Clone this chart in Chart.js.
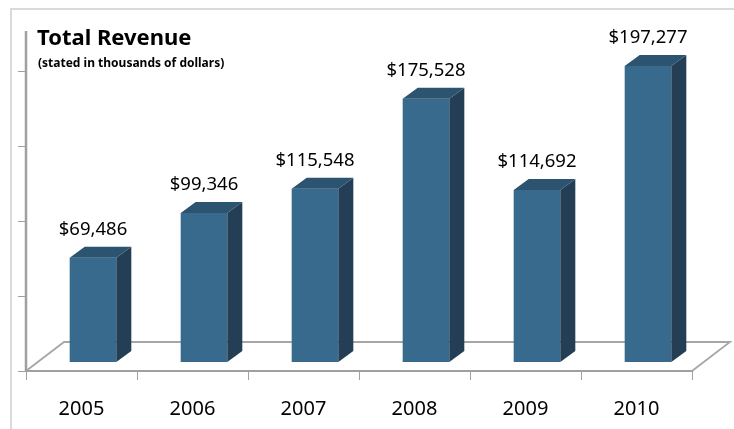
<!DOCTYPE html>
<html>
<head>
<meta charset="utf-8">
<script src="https://cdn.jsdelivr.net/npm/chart.js@4/dist/chart.umd.min.js"></script>
<style>
  html, body { margin: 0; padding: 0; background: #ffffff; }
  #wrap { width: 734px; height: 429px; position: relative; }
</style>
</head>
<body>
<div id="wrap"><canvas id="revenue" width="734" height="429"></canvas></div>
<script>
// Revenue by year, in thousands of dollars
const years = ['2005', '2006', '2007', '2008', '2009', '2010'];
const revenue = [69486, 99346, 115548, 175528, 114692, 197277];
const valueTicks = [0, 50000, 100000, 150000, 200000];
const titleText = 'Total Revenue';
const subtitleText = '(stated in thousands of dollars)';

const FONT = "'Noto Sans', 'Open Sans', sans-serif";
const COLORS = {
  front: '#386a8d',
  side: '#243f55',
  top: '#2c5370',
  axis: '#a0a0a0',
  floor: '#a6a6a6',
  frame: '#dadada'
};
// Oblique projection of the floor and the bar depth
const FLOOR_FRONT = { dx: -11.5, dy: 9 };
const FLOOR_DEPTH = { dx: 38, dy: -29 };
const BAR_DEPTH = { dx: 15, dy: -11 };

const fmt = v => '$' + v.toLocaleString('en-US');

const depthPlugin = {
  id: 'depth3d',
  beforeDatasetsDraw(chart) {
    const ctx = chart.ctx;
    const area = chart.chartArea;
    const xs = chart.scales.x;
    const ys = chart.scales.y;
    const base = ys.getPixelForValue(0);
    const catW = (area.right - area.left) / years.length;

    ctx.save();
    // outer frame (top and left edges)
    ctx.strokeStyle = COLORS.frame;
    ctx.lineWidth = 2;
    ctx.beginPath();
    ctx.moveTo(11, 429);
    ctx.lineTo(11, 9);
    ctx.lineTo(734, 9);
    ctx.stroke();

    // floor
    const fl = area.left + FLOOR_FRONT.dx;
    const fr = area.right + FLOOR_FRONT.dx;
    const fy = base + FLOOR_FRONT.dy;
    ctx.strokeStyle = COLORS.floor;
    ctx.lineWidth = 1.8;
    ctx.beginPath();
    ctx.moveTo(fl, fy);
    ctx.lineTo(fl + FLOOR_DEPTH.dx, fy + FLOOR_DEPTH.dy);
    ctx.lineTo(fr + FLOOR_DEPTH.dx, fy + FLOOR_DEPTH.dy);
    ctx.lineTo(fr, fy);
    ctx.stroke();

    // front edge of the floor = category axis
    ctx.strokeStyle = COLORS.axis;
    ctx.lineWidth = 2;
    ctx.beginPath();
    ctx.moveTo(fl, fy);
    ctx.lineTo(fr, fy);
    ctx.stroke();
    ctx.lineWidth = 1;
    ctx.beginPath();
    for (let i = 0; i <= years.length; i++) {
      const tx = Math.round(fl + i * catW) + 0.5;
      ctx.moveTo(tx, fy);
      ctx.lineTo(tx, fy + 9);
    }
    ctx.stroke();

    // value axis
    ctx.lineWidth = 2.5;
    ctx.beginPath();
    ctx.moveTo(fl, fy);
    ctx.lineTo(fl, area.top - 1);
    ctx.stroke();
    ctx.lineWidth = 1;
    ctx.beginPath();
    valueTicks.forEach(v => {
      const ty = Math.round(ys.getPixelForValue(v) + FLOOR_FRONT.dy) + 0.5;
      ctx.moveTo(fl - 8, ty);
      ctx.lineTo(fl, ty);
    });
    ctx.stroke();

    // category labels
    ctx.fillStyle = '#000';
    ctx.font = '20px ' + FONT;
    ctx.textAlign = 'center';
    ctx.textBaseline = 'middle';
    years.forEach((y, i) => {
      ctx.fillText(y, xs.getPixelForValue(i) + FLOOR_FRONT.dx, 409);
    });

    // titles
    ctx.textAlign = 'left';
    ctx.textBaseline = 'alphabetic';
    ctx.font = 'bold 22px ' + FONT;
    ctx.fillText(titleText, 37, 45);
    ctx.font = 'bold 12px ' + FONT;
    ctx.fillText(subtitleText, 38, 67);
    ctx.restore();
  },
  afterDatasetsDraw(chart) {
    const ctx = chart.ctx;
    const meta = chart.getDatasetMeta(0);
    ctx.save();
    meta.data.forEach((bar, i) => {
      const p = bar.getProps(['x', 'y', 'base', 'width'], true);
      const l = p.x - p.width / 2;
      const r = p.x + p.width / 2;
      // side face
      ctx.fillStyle = COLORS.side;
      ctx.beginPath();
      ctx.moveTo(r, p.y);
      ctx.lineTo(r + BAR_DEPTH.dx, p.y + BAR_DEPTH.dy);
      ctx.lineTo(r + BAR_DEPTH.dx, p.base + BAR_DEPTH.dy);
      ctx.lineTo(r, p.base);
      ctx.closePath();
      ctx.fill();
      // top face
      ctx.fillStyle = COLORS.top;
      ctx.beginPath();
      ctx.moveTo(l, p.y);
      ctx.lineTo(l + BAR_DEPTH.dx, p.y + BAR_DEPTH.dy);
      ctx.lineTo(r + BAR_DEPTH.dx, p.y + BAR_DEPTH.dy);
      ctx.lineTo(r, p.y);
      ctx.closePath();
      ctx.fill();
      // value label
      ctx.fillStyle = '#000';
      ctx.font = '18.5px ' + FONT;
      ctx.textAlign = 'center';
      ctx.textBaseline = 'middle';
      ctx.fillText(fmt(revenue[i]), p.x, p.y - 28);
    });
    ctx.restore();
  }
};

new Chart(document.getElementById('revenue'), {
  type: 'bar',
  data: {
    labels: years,
    datasets: [{
      data: revenue,
      backgroundColor: COLORS.front,
      borderWidth: 0,
      barPercentage: 1,
      categoryPercentage: 0.42
    }]
  },
  options: {
    responsive: false,
    devicePixelRatio: 1,
    animation: false,
    layout: { padding: { left: 37.5, right: 30.5, top: 32, bottom: 67 } },
    plugins: { legend: { display: false }, tooltip: { enabled: false } },
    scales: {
      x: { display: false },
      y: { display: false, min: 0, max: 220000 }
    }
  },
  plugins: [depthPlugin]
});
</script>
</body>
</html>
